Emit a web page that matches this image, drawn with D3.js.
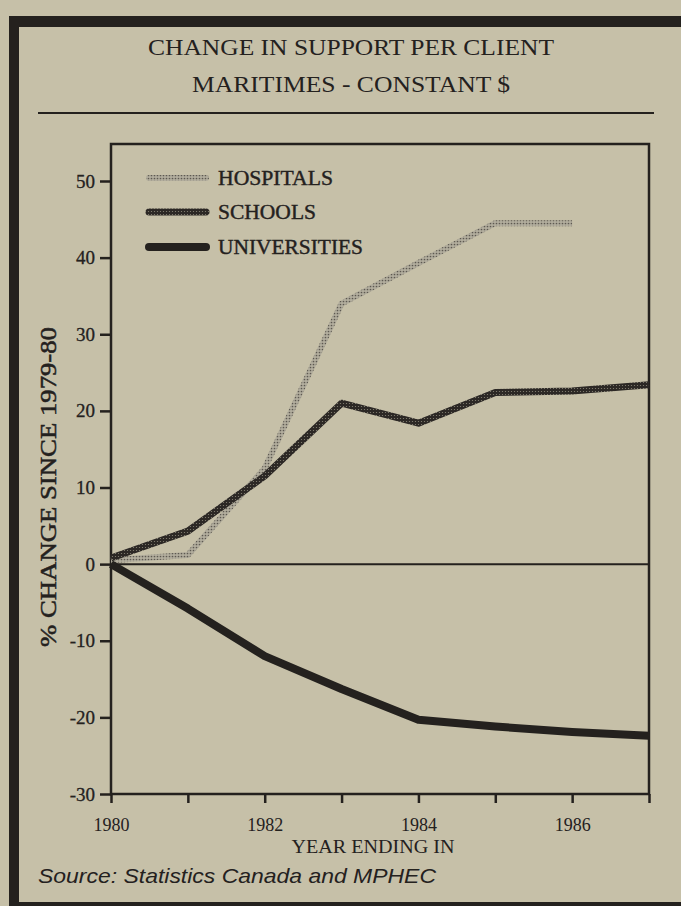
<!DOCTYPE html>
<html><head><meta charset="utf-8">
<script src="https://cdn.jsdelivr.net/npm/d3@7"></script>
<style>html,body{margin:0;padding:0;background:#c6c0a8;} svg{display:block}</style>
</head><body><svg id="c" width="681" height="906"></svg>
<script>
// ---- data ----
const years = [1980, 1981, 1982, 1983, 1984, 1985, 1986, 1987];
const hospitals = [0.5, 1.2, 12.5, 34, 39.3, 44.5, 44.5];           // 1980-1986
const schools = [0.8, 4.3, 11.5, 21, 18.4, 22.4, 22.6, 23.4];      // 1980-1987
const universities = [0, -5.8, -12, -16.3, -20.3, -21.2, -21.9, -22.4];
const seriesNames = ["HOSPITALS", "SCHOOLS", "UNIVERSITIES"];
const yTicks = [-30, -20, -10, 0, 10, 20, 30, 40, 50];
const xTickLabels = [1980, 1982, 1984, 1986];
const titleLines = ["CHANGE IN SUPPORT PER CLIENT", "MARITIMES - CONSTANT $"];
const yAxisTitle = "% CHANGE SINCE 1979-80";
const xAxisTitle = "YEAR ENDING IN";
const sourceText = "Source: Statistics Canada and MPHEC";

const ink = "#24211e";
const serif = '"Liberation Serif","Times New Roman",Times,serif';
const sans = '"Liberation Sans",Arial,sans-serif';
const svg = d3.select("#c");

// background
svg.append("rect").attr("width", 681).attr("height", 906).attr("fill", "#c6c0a8");

// patterns (halftone look)
const defs = svg.append("defs");
const ph = defs.append("pattern").attr("id", "hosp").attr("patternUnits", "userSpaceOnUse")
  .attr("width", 3).attr("height", 3);
ph.append("rect").attr("width", 3).attr("height", 3).attr("fill", "#b2ad9d");
ph.append("circle").attr("cx", 1.5).attr("cy", 1.5).attr("r", 0.85).attr("fill", "#5d5951");
const ps = defs.append("pattern").attr("id", "sch").attr("patternUnits", "userSpaceOnUse")
  .attr("width", 3).attr("height", 3);
ps.append("rect").attr("width", 3).attr("height", 3).attr("fill", "#2c2825");
ps.append("circle").attr("cx", 1.5).attr("cy", 1.5).attr("r", 0.6).attr("fill", "#8a8577");

// frame
svg.append("rect").attr("x", 9).attr("y", 16).attr("width", 672).attr("height", 11).attr("fill", ink);
svg.append("rect").attr("x", 9).attr("y", 16).attr("width", 10).attr("height", 890).attr("fill", ink);
svg.append("rect").attr("x", 9).attr("y", 902).attr("width", 672).attr("height", 4).attr("fill", ink);

// titles
const titleY = [55, 92];
const titleW = [406, 318];
titleLines.forEach((t, i) => {
  svg.append("text").attr("x", 351).attr("y", titleY[i]).attr("text-anchor", "middle")
    .style("font-family", serif).attr("font-size", 23).attr("fill", ink)
    .attr("textLength", titleW[i]).attr("lengthAdjust", "spacingAndGlyphs").text(t);
});
svg.append("line").attr("x1", 38).attr("x2", 654).attr("y1", 113).attr("y2", 113)
  .attr("stroke", ink).attr("stroke-width", 2);

// scales
const x = d3.scaleLinear().domain([1980, 1987]).range([111, 649]);
const y = d3.scaleLinear().domain([-30, 50]).range([794, 181]);
const plotTop = 144;

// y axis
const ya = svg.append("g").attr("transform", "translate(111,0)")
  .call(d3.axisLeft(y).tickValues(yTicks).tickSize(11).tickPadding(5).tickFormat(d => String(d)));
ya.select(".domain").remove();
ya.selectAll("line").attr("stroke", ink).attr("stroke-width", 2.5);
ya.selectAll("text").style("font-family", serif).attr("font-size", 19).attr("fill", ink)
  .attr("stroke", ink).attr("stroke-width", 0.3);

// x axis
const xa = svg.append("g").attr("transform", "translate(0,794)")
  .call(d3.axisBottom(x).tickValues(years).tickSize(9)
    .tickFormat(d => xTickLabels.includes(d) ? String(d) : ""));
xa.select(".domain").remove();
xa.selectAll("line").attr("stroke", ink).attr("stroke-width", 2.5);
xa.selectAll("text").attr("y", 37).attr("dy", 0).style("font-family", serif)
  .attr("font-size", 18).attr("fill", ink);

// plot box
svg.append("rect").attr("x", x(1980)).attr("y", plotTop)
  .attr("width", x(1987) - x(1980)).attr("height", y(-30) - plotTop)
  .attr("fill", "none").attr("stroke", ink).attr("stroke-width", 2.5);
// zero line
svg.append("line").attr("x1", x(1980)).attr("x2", x(1987)).attr("y1", y(0)).attr("y2", y(0))
  .attr("stroke", ink).attr("stroke-width", 2);

// axis titles
svg.append("text").attr("transform", `translate(56,${487}) rotate(-90)`)
  .attr("text-anchor", "middle").style("font-family", serif).attr("font-size", 23)
  .attr("fill", ink).attr("stroke", ink).attr("stroke-width", 0.5)
  .attr("textLength", 320).attr("lengthAdjust", "spacingAndGlyphs").text(yAxisTitle);
svg.append("text").attr("x", 373).attr("y", 853).attr("text-anchor", "middle")
  .style("font-family", serif).attr("font-size", 18).attr("fill", ink)
  .attr("textLength", 163).attr("lengthAdjust", "spacingAndGlyphs").text(xAxisTitle);
svg.append("text").attr("x", 38).attr("y", 883)
  .style("font-family", sans).attr("font-style", "italic").attr("font-size", 21)
  .attr("fill", ink).attr("textLength", 398).attr("lengthAdjust", "spacingAndGlyphs").text(sourceText);

// lines
const line = d3.line().x((d, i) => x(years[i])).y(d => y(d));
const styles = [
  { data: hospitals, stroke: "url(#hosp)", w: 6 },
  { data: schools, stroke: "url(#sch)", w: 7 },
  { data: universities, stroke: ink, w: 8 }
];
styles.forEach(s => {
  svg.append("path").attr("d", line(s.data)).attr("fill", "none")
    .attr("stroke", s.stroke).attr("stroke-width", s.w)
    .attr("stroke-linejoin", "round").attr("stroke-linecap", "butt");
});

// legend
const legY = [178, 212, 247];
const legW = [115, 98, 145];
seriesNames.forEach((n, i) => {
  svg.append("line").attr("x1", 149).attr("x2", 206).attr("y1", legY[i]).attr("y2", legY[i])
    .attr("stroke", styles[i].stroke).attr("stroke-width", styles[i].w).attr("stroke-linecap", "round");
  svg.append("text").attr("x", 218).attr("y", legY[i] + 7)
    .style("font-family", serif).attr("font-size", 20)
    .attr("fill", ink).attr("stroke", ink).attr("stroke-width", 0.4)
    .attr("textLength", legW[i]).attr("lengthAdjust", "spacingAndGlyphs").text(n);
});
</script></body></html>
